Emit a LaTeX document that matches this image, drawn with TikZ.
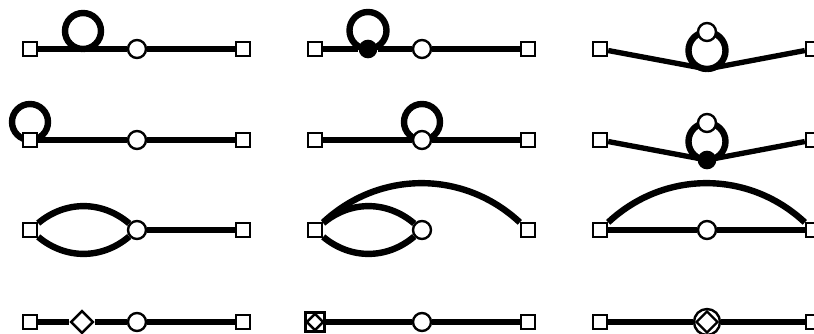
\documentclass[tikz,border=0pt]{standalone}
\usepackage{tikz}
\usetikzlibrary{shapes.geometric, backgrounds}

\begin{document}
\begin{tikzpicture}[x=0.75pt, y=0.75pt,
    term/.style={rectangle, draw, fill=white, line width=1.8pt, inner sep=0pt, minimum size=10.5pt},
    hub/.style={circle, draw, fill=white, line width=1.8pt, inner sep=0pt, minimum size=13.5pt},
    blob/.style={circle, fill=black, inner sep=0pt, minimum size=14pt},
    gem/.style={diamond, draw, fill=white, line width=1.8pt, inner sep=0pt, minimum size=17pt},
    wire/.style={line width=4pt},
    loopwire/.style={line width=4.8pt}
]
\useasboundingbox (0,0) rectangle (814,333);

% row 1
\node[term] (sA1) at (30,284) {};
\coordinate (lA1) at (83,284);
\node[hub] (cA1) at (137,284) {};
\node[term] (tA1) at (243,284) {};

\node[term] (sB1) at (315,284) {};
\node[blob] (dB1) at (368,284) {};
\node[hub] (cB1) at (422,284) {};
\node[term] (tB1) at (528,284) {};

\node[term] (sC1) at (600,284) {};
\coordinate (vC1) at (707,264);
\node[hub] (cC1) at (707,301) {};
\node[term] (tC1) at (813,284) {};

% row 2
\node[term] (sA2) at (30,193) {};
\node[hub] (cA2) at (137,193) {};
\node[term] (tA2) at (243,193) {};

\node[term] (sB2) at (315,193) {};
\node[hub] (cB2) at (422,193) {};
\node[term] (tB2) at (528,193) {};

\node[term] (sC2) at (600,193) {};
\node[blob] (dC2) at (707,173) {};
\node[hub] (cC2) at (707,210) {};
\node[term] (tC2) at (813,193) {};

% row 3
\node[term] (sA3) at (30,103) {};
\node[hub] (cA3) at (137,103) {};
\node[term] (tA3) at (243,103) {};

\node[term] (sB3) at (315,103) {};
\node[hub] (cB3) at (422,103) {};
\node[term] (tB3) at (528,103) {};

\node[term] (sC3) at (600,103) {};
\node[hub] (cC3) at (707,103) {};
\node[term] (tC3) at (813,103) {};

% row 4
\node[term] (sA4) at (30,11) {};
\node[gem] (gA4) at (82,11) {};
\node[hub] (cA4) at (137,11) {};
\node[term] (tA4) at (243,11) {};

\node[term, minimum size=14.5pt, line width=2.4pt] (sB4) at (315,11) {};
\node[gem, minimum size=13pt] (gB4) at (sB4) {};
\node[hub] (cB4) at (422,11) {};
\node[term] (tB4) at (528,11) {};

\node[term] (sC4) at (600,11) {};
\node[hub, minimum size=19.5pt] (cC4) at (707,11) {};
\node[gem, minimum size=16.5pt] (gC4) at (cC4) {};
\node[term] (tC4) at (813,11) {};

\begin{scope}[on background layer]
% row 1
\draw[wire] (sA1) -- (cA1) -- (tA1);
\draw[loopwire] (lA1) arc[start angle=-90, end angle=270, radius=18];
\draw[wire] (sB1) -- (dB1) -- (cB1) -- (tB1);
\draw[loopwire] (dB1.center) arc[start angle=-90, end angle=270, radius=18.5];
\draw[wire] (sC1) -- (vC1) -- (tC1);
\draw[loopwire] (vC1) arc[start angle=-90, end angle=270, radius=18.5];
% row 2
\draw[wire] (sA2) -- (cA2) -- (tA2);
\draw[loopwire] (sA2.center) arc[start angle=-90, end angle=270, radius=18];
\draw[wire] (sB2) -- (cB2) -- (tB2);
\draw[loopwire] (cB2.center) arc[start angle=-90, end angle=270, radius=18];
\draw[wire] (sC2) -- (dC2) -- (tC2);
\draw[loopwire] (dC2.center) arc[start angle=-90, end angle=270, radius=18.5];
% row 3
\draw[loopwire] (sA3) to[bend left=40] (cA3);
\draw[loopwire] (sA3) to[bend right=40] (cA3);
\draw[wire] (cA3) -- (tA3);
\draw[loopwire] (sB3) to[bend left=40] (cB3);
\draw[loopwire] (sB3) to[bend right=40] (cB3);
\draw[loopwire] (sB3) to[bend left=43] (tB3);
\draw[wire] (sC3) -- (cC3) -- (tC3);
\draw[loopwire] (sC3) to[bend left=43] (tC3);
% row 4
\draw[wire] (sA4) -- (gA4) -- (cA4) -- (tA4);
\draw[wire] (sB4) -- (cB4) -- (tB4);
\draw[wire] (sC4) -- (cC4) -- (tC4);
\end{scope}
\end{tikzpicture}
\end{document}
